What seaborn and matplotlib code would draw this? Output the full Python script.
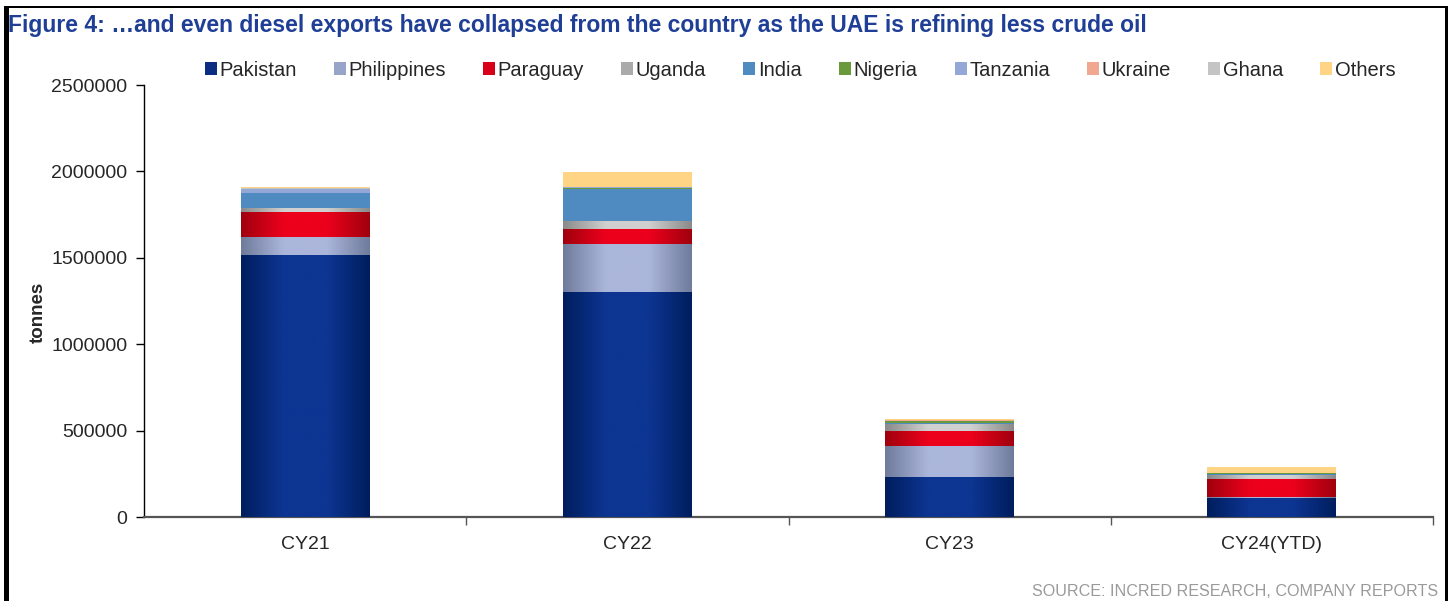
import numpy as np
import pandas as pd
import matplotlib
matplotlib.use("Agg")
import matplotlib.pyplot as plt
from matplotlib.colors import LinearSegmentedColormap
from matplotlib.patches import Rectangle, Patch
import seaborn as sns

# ---- data ----
years = ["CY21", "CY22", "CY23", "CY24(YTD)"]
countries = ["Pakistan", "Philippines", "Paraguay", "Uganda", "India",
             "Nigeria", "Tanzania", "Ukraine", "Ghana", "Others"]
pakistan    = [1516000, 1302000, 231000, 108000]
philippines = [104000, 280000, 179000, 10000]
paraguay    = [145000, 85000, 87000, 104000]
uganda      = [23000, 45000, 39000, 23000]
india       = [87000, 187000, 9000, 6000]
nigeria     = [0, 6000, 10000, 6000]
tanzania    = [21000, 6000, 2000, 0]
ukraine     = [0, 0, 5000, 0]
ghana       = [9000, 0, 0, 0]
others      = [6000, 87000, 5000, 35000]
yticks = [0, 500000, 1000000, 1500000, 2000000, 2500000]

series = [pakistan, philippines, paraguay, uganda, india,
          nigeria, tanzania, ukraine, ghana, others]
colors = ["#0B2D82", "#98A4C8", "#D80018", "#AAAAAA", "#4F8BC0",
          "#6A9A3C", "#94A8D8", "#F0A890", "#C4C4C4", "#FFD485"]
gradients = {
    "Pakistan": ("#001E5E", "#0D3592"),
    "Philippines": ("#6F7B9B", "#ABB6DB"),
    "Paraguay": ("#A0000E", "#EC001C"),
    "Uganda": ("#8A8A8A", "#D0D0D0"),
}

df = pd.DataFrame({"year": years})
for c, s in zip(countries, series):
    df[c] = s
cum = df[countries].cumsum(axis=1)

sns.set_style("white")
plt.rcParams["font.family"] = ["Liberation Sans", "DejaVu Sans"]

fig = plt.figure(figsize=(14.56, 6.01), dpi=100)
ax = fig.add_axes([144 / 1456, 1 - 517 / 601, (1433 - 144) / 1456, (517 - 85) / 601])

width = 0.40
for c, col in reversed(list(zip(countries, colors))):
    sns.barplot(data=cum.assign(year=years), x="year", y=c, order=years,
                color=col, saturation=1, width=width, linewidth=0,
                edgecolor="none", ax=ax)

ax.set_xlim(-0.5, 3.5)
ax.set_ylim(0, 2500000)

# gradient shading for the first four series
for k, c in enumerate(countries):
    if c not in gradients:
        continue
    edge, center = gradients[c]
    cmap = LinearSegmentedColormap.from_list(c, [edge, center, center, edge])
    grad = np.linspace(0, 1, 256)[None, :]
    for i in range(len(years)):
        lo = 0 if k == 0 else cum.iloc[i, k - 1]
        hi = cum.iloc[i, k]
        if hi - lo <= 0:
            continue
        ax.imshow(grad, extent=[i - width / 2, i + width / 2, lo, hi],
                  aspect="auto", cmap=cmap, interpolation="bicubic", zorder=3)
ax.set_xlim(-0.5, 3.5)
ax.set_ylim(0, 2500000)
ax.set_aspect("auto")

# axes styling
for s in ["top", "right"]:
    ax.spines[s].set_visible(False)
ax.spines["left"].set_color("black")
ax.spines["left"].set_linewidth(1.0)
ax.spines["bottom"].set_color("#555555")
ax.spines["bottom"].set_linewidth(1.6)
ax.set_yticks(yticks)
ax.set_yticklabels([str(v) for v in yticks], fontsize=14)
ax.tick_params(axis="y", direction="out", length=6, width=1, color="black", pad=6, left=True)
ax.set_xticks(range(len(years)))
ax.set_xticklabels(years, fontsize=14)
ax.tick_params(axis="x", length=0, pad=14)
ax.set_xticks([0.5, 1.5, 2.5, 3.5], minor=True)
ax.tick_params(axis="x", which="minor", direction="out", length=6, width=1, color="#555555", bottom=True)
ax.set_xlabel("")
ax.set_ylabel("")
ax.grid(False)

fig.text(38 / 1456, 1 - 312 / 601, "tonnes", rotation=90, fontsize=13.5,
         fontweight="bold", ha="center", va="center")

# legend
handles = [Patch(facecolor=col, edgecolor="none") for col in colors]
leg = fig.legend(handles, countries, loc="center", ncol=10,
                 bbox_to_anchor=(800 / 1456, 1 - 70 / 601), frameon=False,
                 fontsize=14.5, handlelength=0.6, handleheight=0.6,
                 handletextpad=0.12, columnspacing=1.85)

# title and source
fig.text(8 / 1456, 1 - 32 / 601,
         "Figure 4: \u2026and even diesel exports have collapsed from the country as the UAE is refining less crude oil",
         fontsize=16.5, fontweight="bold", color="#1F3E96", ha="left", va="baseline")
fig.text(1438 / 1456, 1 - 596 / 601, "SOURCE: INCRED RESEARCH, COMPANY REPORTS",
         fontsize=11.6, color="#9A9A9A", ha="right", va="baseline")

# frame
fig.patches.append(Rectangle((4 / 1456, 0), 5 / 1456, 1 - 6 / 601, transform=fig.transFigure,
                             facecolor="black", edgecolor="none"))
fig.patches.append(Rectangle((4 / 1456, 1 - 8 / 601), (1448 - 4) / 1456, 2 / 601,
                             transform=fig.transFigure, facecolor="black", edgecolor="none"))
fig.patches.append(Rectangle((1445 / 1456, 0), 3 / 1456, 1 - 6 / 601, transform=fig.transFigure,
                             facecolor="black", edgecolor="none"))

fig.savefig("out.png", dpi=100)
